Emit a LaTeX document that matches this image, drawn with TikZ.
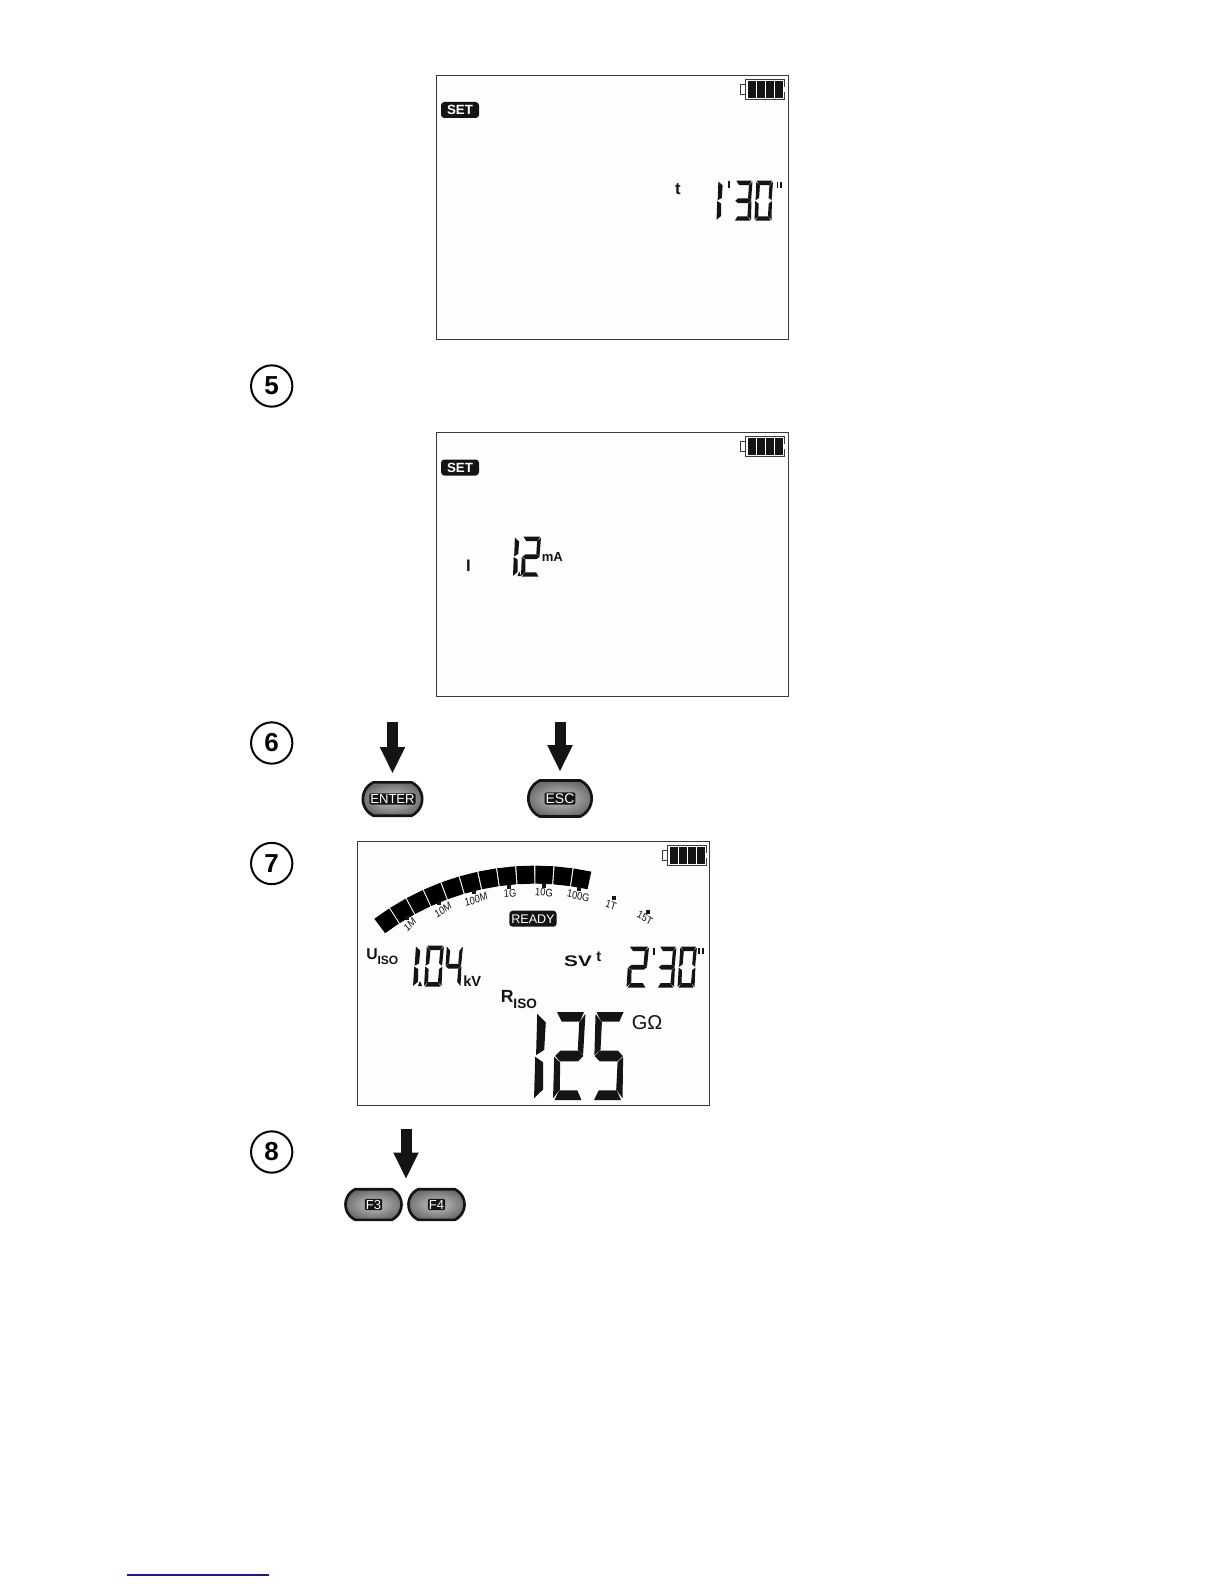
\documentclass[tikz,border=0pt]{standalone}
\usepackage{fontspec}
\setmainfont{Liberation Sans}
\usetikzlibrary{arrows.meta,positioning,shapes.misc,calc}
\definecolor{Ink}{HTML}{141414}
\definecolor{Frame}{HTML}{3A3A3A}
\definecolor{Screen}{HTML}{FFFDFC}
\definecolor{Link}{HTML}{1A1A8C}
\newcommand{\px}[1]{\fontsize{#1}{#1}\selectfont}
% segments of one digit, in a box of 1 by 1
\newcommand{\lcdsega}{(.05,0) -- (.95,0) -- (.82,.11) -- (.22,.11) -- cycle}
\newcommand{\lcdsegb}{(1,.02) -- (.8,.12) -- (.78,.43) -- (.96,.49) -- cycle}
\newcommand{\lcdsegc}{(.98,.51) -- (.8,.57) -- (.78,.88) -- (1,.98) -- cycle}
\newcommand{\lcdsegd}{(.05,1) -- (.95,1) -- (.8,.89) -- (.2,.89) -- cycle}
\newcommand{\lcdsege}{(0,.51) -- (.2,.57) -- (.22,.88) -- (0,.98) -- cycle}
\newcommand{\lcdsegf}{(.02,.02) -- (.24,.12) -- (.22,.43) -- (.02,.49) -- cycle}
\newcommand{\lcdsegg}{(.03,.5) -- (.2,.44) -- (.8,.44) -- (.97,.5) -- (.8,.56) -- (.2,.56) -- cycle}
% x, y, width, height, lean, segments
\newcommand{\lcddigit}[6]{%
  \begin{scope}[shift={(#1+#5,#2)},xscale=#3,yscale=#4,xslant={#5/#3}]
    \foreach \seg in {#6} {
      \expandafter\let\expandafter\segpath\csname lcdseg\seg\endcsname
      \fill[Ink] \segpath;
    }
  \end{scope}}
\tikzset{
  battery/.pic={
    \draw[Frame,fill=white,line width=.7pt] (-5.7,4.7) rectangle (0,14.7);
    \draw[Frame,fill=white,line width=.7pt] (0,0) rectangle (38.3,20);
    \foreach \cell in {2.4,11.3,20.2,29.1}
      \fill[Ink] (\cell,1.5) rectangle +(7.8,17);
    \fill[white] (37.6,7.5) rectangle (39,12.5);
  }
}
\begin{document}
\begin{tikzpicture}[
  x=.75pt,y=-.75pt,
  lcdframe/.style={draw=Frame,fill=Screen,line width=.7pt,minimum width=264pt,minimum height=198pt,inner sep=0pt},
  stepmark/.style={circle,draw=black,line width=1.5pt,minimum size=31pt,inner sep=0pt,font=\px{19.5pt}\bfseries},
  badge/.style={fill=Ink,text=white,rounded corners=2.5pt,minimum height=12pt,inner sep=0pt},
  keybtn/.style={rounded rectangle,rounded rectangle arc length=130,draw=Ink,line width=2pt,inner color=gray!45,outer color=gray!85!black,inner sep=0pt},
  keytext/.style={fill=Ink,text=white,rounded corners=1.5pt,inner sep=.8pt,font=\px{9.8pt}},
  pressarrow/.style={-{Triangle[length=20pt,width=17.5pt]},draw=Ink,line width=8.25pt,shorten >=5.5pt},
  lcdtext/.style={inner sep=0pt,text=Ink,font=\px{12.5pt}\bfseries},
  ticklabel/.style={inner sep=0pt,text=Ink,xscale=.85,font=\px{8.2pt}}
]
\useasboundingbox (0,0) rectangle (1224,1584);

% first screen
\node[lcdframe] (screena) at (612,207) {};
\pic at (745.7,79.3) {battery};
\node[badge,minimum width=28.5pt,font=\px{10pt}\bfseries] (seta) at (460,110) {SET};
\node[lcdtext] (timea) at (678,189) {t};
\lcddigit{716.5}{180.7}{20}{40}{1.5}{e,f}
\fill[Ink] (727.5,181) rectangle (729.5,188);
\lcddigit{734}{180.7}{17}{40}{1.5}{a,b,c,d,g}
\lcddigit{754.5}{180.7}{17}{40}{1.5}{a,b,c,d,e,f}
\fill[Ink] (776.5,182) rectangle (778.3,188);
\fill[Ink] (780.2,182) rectangle (782,188);

\node[stepmark] (stepfive) at (271.7,386) {5};

% second screen
\node[lcdframe] (screenb) at (612,564.5) {};
\pic at (745.7,436.8) {battery};
\node[badge,minimum width=28.5pt,font=\px{10pt}\bfseries] (setb) at (460,467.5) {SET};
\node[lcdtext] (currenti) at (468.5,566) {I};
\lcddigit{513}{536.7}{20}{40}{1.5}{e,f}
\fill[Ink] (517.5,576) -- (521,576) -- (519.2,571.5) -- cycle;
\lcddigit{521}{536.7}{18.5}{40}{1.5}{a,b,g,e,d}
\node[lcdtext,anchor=base west,font=\px{9.8pt}\bfseries] (currentunit) at (541.5,561.7) {mA};

\node[stepmark] (stepsix) at (271.7,743) {6};
\node[keybtn,minimum width=44.5pt,minimum height=25pt] (enterkey) at (392.5,799) {};
\node[keytext] (entertext) at (enterkey) {ENTER};
\coordinate (enterstart) at (392.5,722);
\draw[pressarrow] (enterstart) -- (enterkey);
\node[keybtn,minimum width=47.5pt,minimum height=27pt] (esckey) at (560,798.5) {};
\node[keytext,font=\px{10.5pt}] (esctext) at (esckey) {ESC};
\coordinate (escstart) at (560,722);
\draw[pressarrow] (escstart) -- (esckey);

\node[stepmark] (stepseven) at (271.7,863.5) {7};

% third screen
\node[lcdframe] (screenc) at (533,973) {};
\pic at (667.7,845.7) {battery};
% scale bar
\foreach \i in {0,...,11} {
  \pgfmathsetmacro{\aa}{-36.8+\i*4.092+.13}
  \pgfmathsetmacro{\ab}{-36.8+(\i+1)*4.092-.13}
  \fill[black] ({534.7+268.5*sin(\aa)},{1134.1-268.5*cos(\aa)})
    -- ({534.7+268.5*sin(\ab)},{1134.1-268.5*cos(\ab)})
    -- ({534.7+250.5*sin(\ab)},{1134.1-250.5*cos(\ab)})
    -- ({534.7+250.5*sin(\aa)},{1134.1-250.5*cos(\aa)}) -- cycle;
}
\foreach \tx/\ty/\lx/\ly/\rot/\txt in {
  407.3/918.3/410/925/42/1M,
  439.3/903.3/443/910/30/10M,
  474/892.3/476/899.5/15/100M,
  509/886.7/510/893.5/5/1G,
  544.3/885.7/544/892.5/-5/10G,
  579.3/889/578.3/896/-12/100G,
  614/897.7/611/905/-20/1T,
  647.7/911.7/645/918/-30/15T} {
  \fill[Ink] (\tx-2,\ty-2) rectangle (\tx+2,\ty+2);
  \node[ticklabel,rotate=\rot] (scale\txt) at (\lx,\ly) {\txt};
}
\node[badge,minimum width=35.5pt,font=\px{9.4pt}] (ready) at (533,918.7) {READY};
\node[lcdtext,anchor=base west,font=\px{11.8pt}\bfseries] (uiso) at (366,959) {U\raisebox{-4.2pt}{\px{9pt}ISO}};
\lcddigit{413}{945.7}{21}{41}{2.5}{e,f}
\fill[Ink] (418,986) -- (422,986) -- (420,981) -- cycle;
\lcddigit{424}{945.7}{17.5}{41}{2.5}{a,b,c,d,e,f}
\lcddigit{444}{945.7}{16.5}{41}{2.5}{f,g,b,c}
\node[lcdtext,anchor=base west,font=\px{11pt}\bfseries] (uunit) at (463,986) {kV};
\node[lcdtext,font=\px{11.5pt}\bfseries,xscale=1.35] (sv) at (578,961) {SV};
\node[lcdtext,font=\px{11pt}\bfseries] (timec) at (598.7,956.5) {t};
\lcddigit{626.5}{946.7}{20}{41}{2.5}{a,b,g,e,d}
\fill[Ink] (653,948) rectangle (655.2,955);
\lcddigit{657}{946.7}{17}{41}{2.5}{a,b,c,d,g}
\lcddigit{677.5}{946.7}{17}{41}{2.5}{a,b,c,d,e,f}
\fill[Ink] (698,948) rectangle (700,954);
\fill[Ink] (701.8,948) rectangle (703.8,954);
\node[lcdtext,anchor=base west,font=\px{13.2pt}\bfseries] (riso) at (500.5,1002.7) {R\raisebox{-4.2pt}{\px{10.2pt}ISO}};
\lcddigit{534}{1012}{40}{88}{2.5}{e,f}
\lcddigit{553}{1012}{30}{88}{2.5}{a,b,g,e,d}
\lcddigit{592.5}{1012}{30}{88}{2.5}{a,f,g,c,d}
\node[lcdtext,anchor=base west,font=\px{15pt}] (runit) at (631.5,1029.3) {GΩ};

\node[stepmark] (stepeight) at (271.7,1152) {8};
\node[keybtn,minimum width=42pt,minimum height=23pt] (fthree) at (373.5,1204.5) {};
\node[keytext] (fthreetext) at (fthree) {F3};
\node[keybtn,minimum width=42pt,minimum height=23pt] (ffour) at (436.5,1204.5) {};
\node[keytext] (ffourtext) at (ffour) {F4};
\coordinate (fstart) at (406,1129);
\coordinate (fend) at (406,1186.5);
\draw[pressarrow] (fstart) -- (fend);

% link rule at the foot of the page
\draw[Link,line width=1pt] (127.3,1575) -- (269,1575);
\end{tikzpicture}
\end{document}
